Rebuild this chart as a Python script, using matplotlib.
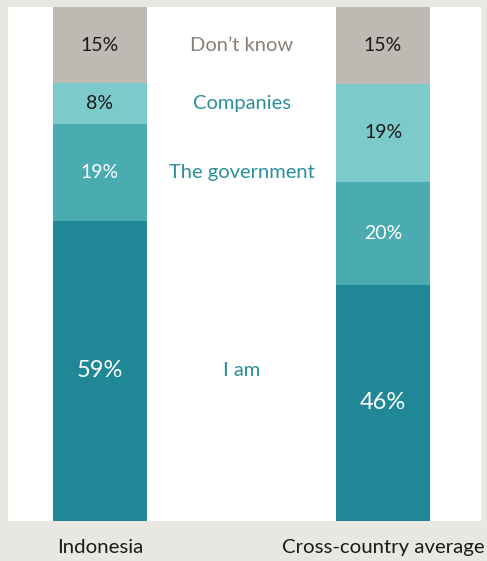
import matplotlib.pyplot as plt
import numpy as np

plt.rcParams['font.family'] = ['Lato', 'DejaVu Sans']

# Data (bottom to top)
groups = ['Indonesia', 'Cross-country average']
answers = ['I am', 'The government', 'Companies', 'Don\u2019t know']
indonesia = [59, 19, 8, 15]
cross_avg = [46, 20, 19, 15]

seg_colors = ['#1f8796', '#4aabb0', '#7ccac9', '#bfb9b3']
pct_colors = ['white', 'white', '#1a1a1a', '#1a1a1a']
answer_colors = ['#2a8f9c', '#2a8f9c', '#2a8f9c', '#8a7f74']

fig = plt.figure(figsize=(4.87, 5.61), dpi=100, facecolor='#e8e7e2')
ax = fig.add_axes([8 / 487, 40 / 561, 473 / 487, 514 / 561])
ax.set_facecolor('white')

data = np.array([indonesia, cross_avg], dtype=float)
shares = data / data.sum(axis=1, keepdims=True) * 100
x = np.arange(len(groups))
width = 0.332

bottoms = np.zeros(len(groups))
mids_indonesia = []
for i in range(len(answers)):
    ax.bar(x, shares[:, i], width, bottom=bottoms, color=seg_colors[i], linewidth=0)
    for j in range(len(groups)):
        mid = bottoms[j] + shares[j, i] / 2
        ax.text(x[j], mid, f'{int(data[j, i])}%', ha='center', va='center',
                color=pct_colors[i], fontsize=17 if data[j, i] > 40 else 14)
    mids_indonesia.append(bottoms[0] + shares[0, i] / 2)
    bottoms += shares[:, i]

for i, ans in enumerate(answers):
    ax.text(0.5, mids_indonesia[i], ans, ha='center', va='center',
            color=answer_colors[i], fontsize=14.5)

for j, g in enumerate(groups):
    ax.text(x[j], -5.2, g, ha='center', va='center', fontsize=14.7, color='#1a1a1a',
            clip_on=False)

ax.set_xlim(-0.325, 1.346)
ax.set_ylim(0, 100)
ax.set_xticks([])
ax.set_yticks([])
for s in ax.spines.values():
    s.set_visible(False)

fig.savefig('out.png', dpi=100, facecolor=fig.get_facecolor())
